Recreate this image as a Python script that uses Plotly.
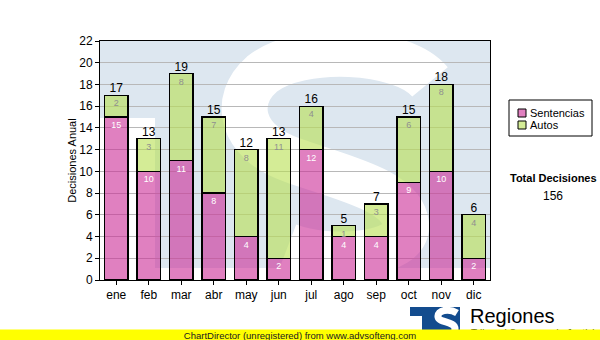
import plotly.graph_objects as go

# Monthly decisions, split by type
months = ["ene", "feb", "mar", "abr", "may", "jun", "jul", "ago", "sep", "oct", "nov", "dic"]
sentencias = [15, 10, 11, 8, 4, 2, 12, 4, 4, 9, 10, 2]
autos = [2, 3, 8, 7, 8, 11, 4, 1, 3, 6, 8, 4]
totals = [s + a for s, a in zip(sentencias, autos)]
y_ticks = list(range(0, 23, 2))

PINK = "rgba(203,43,150,0.6)"
GREEN = "rgba(183,223,80,0.6)"
WM_BLUE = "#dde7f0"
LOGO_BLUE = "#134c8e"
FONT = "Liberation Sans, Arial, sans-serif"

# plot area in page pixels
L, R, T, B = 100, 490, 41, 280


def px(X):
    return (X - L) / (R - L)


def py(Y):
    return (B - Y) / (B - T)


def path(points):
    """Build an SVG path string from page-pixel coordinates."""
    out = []
    for cmd, pts in points:
        coords = " ".join(f"{px(x):.4f},{py(y):.4f}" for x, y in pts)
        out.append(f"{cmd} {coords}")
    return " ".join(out)


fig = go.Figure()

fig.add_trace(go.Bar(
    x=months, y=sentencias, name="Sentencias",
    marker=dict(color=PINK, line=dict(color="black", width=1.3)),
    text=[str(v) for v in sentencias], textposition="inside",
    insidetextanchor="end", textangle=0, constraintext="none",
    insidetextfont=dict(family=FONT, size=9, color="white"),
    width=0.72, hoverinfo="skip",
))
fig.add_trace(go.Bar(
    x=months, y=autos, name="Autos",
    marker=dict(color=GREEN, line=dict(color="black", width=1.3)),
    text=[str(v) for v in autos], textposition="inside",
    insidetextanchor="end", textangle=0, constraintext="none",
    insidetextfont=dict(family=FONT, size=9, color="#8f8f8f"),
    width=0.72, hoverinfo="skip",
))
fig.add_trace(go.Scatter(
    x=months, y=totals, mode="text", text=[str(v) for v in totals],
    textposition="top center", textfont=dict(family=FONT, size=12, color="black"),
    hoverinfo="skip", showlegend=False,
))

shapes = []
# watermark logo behind the bars
shapes.append(dict(type="rect", xref="paper", yref="paper", layer="below",
                   x0=0, x1=1, y0=py(268), y1=1, fillcolor=WM_BLUE, line_width=0))
shapes.append(dict(type="rect", xref="paper", yref="paper", layer="below",
                   x0=0, x1=px(155), y0=py(268), y1=py(118), fillcolor="white", line_width=0))
shapes.append(dict(type="path", xref="paper", yref="paper", layer="below",
                   path=path([("M", [(430, 82)]),
                              ("C", [(402, 48), (300, 44), (262, 74)]),
                              ("C", [(232, 100), (240, 142), (292, 160)]),
                              ("C", [(342, 178), (402, 190), (406, 224)]),
                              ("C", [(410, 256), (330, 262), (288, 246)])]),
                   line=dict(color="white", width=46)))

# legend box
shapes.append(dict(type="rect", xref="paper", yref="paper",
                   x0=px(509), x1=px(592), y0=py(136), y1=py(100),
                   line=dict(color="black", width=1), fillcolor="white"))
shapes.append(dict(type="rect", xref="paper", yref="paper",
                   x0=px(518), x1=px(526), y0=py(117), y1=py(109),
                   line=dict(color="black", width=1), fillcolor=PINK))
shapes.append(dict(type="rect", xref="paper", yref="paper",
                   x0=px(518), x1=px(526), y0=py(129), y1=py(121),
                   line=dict(color="black", width=1), fillcolor=GREEN))

# footer logo
shapes.append(dict(type="rect", xref="paper", yref="paper",
                   x0=px(410), x1=px(460), y0=py(340), y1=py(307),
                   fillcolor=LOGO_BLUE, line_width=0))
shapes.append(dict(type="rect", xref="paper", yref="paper",
                   x0=px(410), x1=px(422), y0=py(340), y1=py(316),
                   fillcolor="white", line_width=0))
shapes.append(dict(type="path", xref="paper", yref="paper",
                   path=path([("M", [(457, 313)]),
                              ("C", [(449, 308), (437, 310), (438, 317)]),
                              ("C", [(439, 323), (455, 321), (455, 329)]),
                              ("C", [(455, 337), (444, 339), (436, 335)])]),
                   line=dict(color="white", width=7)))

annotations = [
    dict(text="Sentencias", x=px(528), y=py(113), xref="paper", yref="paper",
         xanchor="left", yanchor="middle", showarrow=False,
         font=dict(family=FONT, size=11, color="black")),
    dict(text="Autos", x=px(528), y=py(125), xref="paper", yref="paper",
         xanchor="left", yanchor="middle", showarrow=False,
         font=dict(family=FONT, size=11, color="black")),
    dict(text="<b>Total Decisiones</b>", x=px(553), y=py(178), xref="paper", yref="paper",
         xanchor="center", yanchor="middle", showarrow=False,
         font=dict(family=FONT, size=11, color="black")),
    dict(text=str(sum(totals)), x=px(553), y=py(196), xref="paper", yref="paper",
         xanchor="center", yanchor="middle", showarrow=False,
         font=dict(family=FONT, size=12, color="black")),
    dict(text="Regiones", x=px(468), y=py(316), xref="paper", yref="paper",
         xanchor="left", yanchor="middle", showarrow=False,
         font=dict(family=FONT, size=20, color="black")),
    dict(text="Tribunal Supremo de Justicia", x=px(469), y=py(333), xref="paper", yref="paper",
         xanchor="left", yanchor="middle", showarrow=False,
         font=dict(family=FONT, size=10, color="black")),
    # unregistered banner along the bottom edge
    dict(text="ChartDirector (unregistered) from www.advsofteng.com",
         x=px(300), y=py(335), xref="paper", yref="paper",
         xanchor="center", yanchor="middle", showarrow=False,
         width=600, height=11, borderpad=0, bgcolor="#ffff00",
         font=dict(family=FONT, size=9.5, color="#202020")),
]

fig.update_layout(
    width=600, height=340,
    margin=dict(l=L, r=600 - R, t=T, b=340 - B),
    barmode="stack", bargap=0.28,
    paper_bgcolor="white", plot_bgcolor="white",
    showlegend=False,
    font=dict(family=FONT, size=12, color="black"),
    shapes=shapes, annotations=annotations,
    xaxis=dict(
        range=[-0.5, 11.5], showgrid=False, ticks="outside", ticklen=4,
        tickcolor="black", showline=True, linecolor="black", linewidth=1,
        mirror=True, tickfont=dict(family=FONT, size=12, color="black"),
    ),
    yaxis=dict(
        range=[0, 22], tickvals=y_ticks, showgrid=True, gridcolor="#b8b8b8",
        gridwidth=1, zeroline=False, ticks="outside", ticklen=4,
        tickcolor="black", showline=True, linecolor="black", linewidth=1,
        mirror=True, tickfont=dict(family=FONT, size=12, color="black"),
        title=dict(text="Decisiones Anual", standoff=0,
                   font=dict(family=FONT, size=11, color="black")),
    ),
)

fig.write_html("out.html")
